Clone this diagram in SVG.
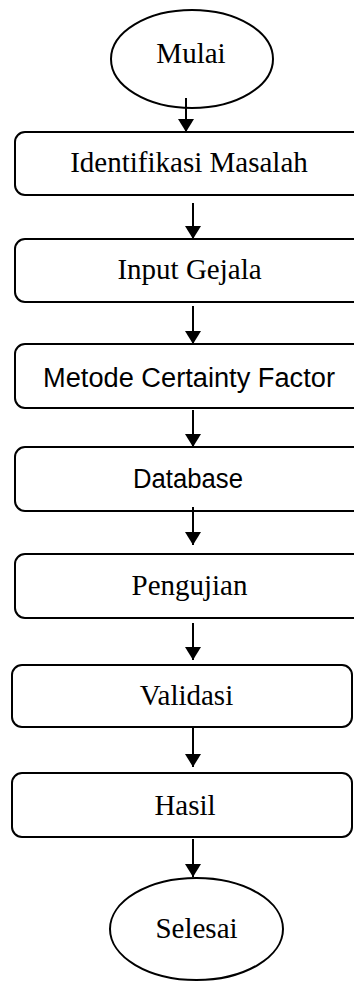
<svg xmlns="http://www.w3.org/2000/svg" width="354" height="981" viewBox="0 0 354 981">
<style>
.box{fill:#fff;stroke:#000;stroke-width:2}
.serif{font-family:"Liberation Serif","Times New Roman",serif;font-size:29px;fill:#000;text-anchor:middle}
.sans{font-family:"Liberation Sans",Arial,sans-serif;font-size:27px;fill:#000;text-anchor:middle}
.conn{stroke:#000;stroke-width:2;fill:none}
</style>
<defs>
<marker id="ah" markerUnits="userSpaceOnUse" markerWidth="14" markerHeight="16" refX="13" refY="8" orient="auto">
<path d="M0,0 L13,8 L0,16 Z" fill="#000"/>
</marker>
</defs>
<rect width="354" height="981" fill="#fff"/>
<g id="mulai"><ellipse class="box" cx="192" cy="59" rx="81" ry="49"/><text class="serif" x="191" y="63">Mulai</text></g>
<g id="identifikasi"><rect class="box" x="15" y="132" width="350" height="63" rx="10"/><text class="serif" x="189" y="172">Identifikasi Masalah</text></g>
<g id="input"><rect class="box" x="15" y="239" width="350" height="63" rx="10"/><text class="serif" x="189.5" y="279">Input Gejala</text></g>
<g id="metode"><rect class="box" x="15" y="344" width="350" height="64" rx="10"/><text class="sans" x="189" y="387" textLength="292" lengthAdjust="spacingAndGlyphs">Metode Certainty Factor</text></g>
<g id="database"><rect class="box" x="15" y="447" width="350" height="64" rx="10"/><text class="sans" x="188" y="488" textLength="110" lengthAdjust="spacingAndGlyphs">Database</text></g>
<g id="pengujian"><rect class="box" x="15" y="554" width="350" height="64" rx="10"/><text class="serif" x="189.5" y="595">Pengujian</text></g>
<g id="validasi"><rect class="box" x="12" y="665" width="340" height="62" rx="10"/><text class="serif" x="186.5" y="705">Validasi</text></g>
<g id="hasil"><rect class="box" x="12" y="773" width="340" height="64" rx="10"/><text class="serif" x="185" y="815">Hasil</text></g>
<g id="selesai"><ellipse class="box" cx="196.5" cy="929" rx="86.5" ry="51"/><text class="serif" x="196.5" y="938">Selesai</text></g>
<g id="connectors">
<line class="conn" x1="186" y1="98" x2="186" y2="132" marker-end="url(#ah)"/>
<line class="conn" x1="193" y1="203" x2="193" y2="239" marker-end="url(#ah)"/>
<line class="conn" x1="193" y1="306" x2="193" y2="344" marker-end="url(#ah)"/>
<line class="conn" x1="193" y1="410" x2="193" y2="447" marker-end="url(#ah)"/>
<line class="conn" x1="193" y1="507" x2="193" y2="545" marker-end="url(#ah)"/>
<line class="conn" x1="193" y1="623" x2="193" y2="660" marker-end="url(#ah)"/>
<line class="conn" x1="193" y1="728" x2="193" y2="767" marker-end="url(#ah)"/>
<line class="conn" x1="193" y1="839" x2="193" y2="877" marker-end="url(#ah)"/>
</g>
</svg>
